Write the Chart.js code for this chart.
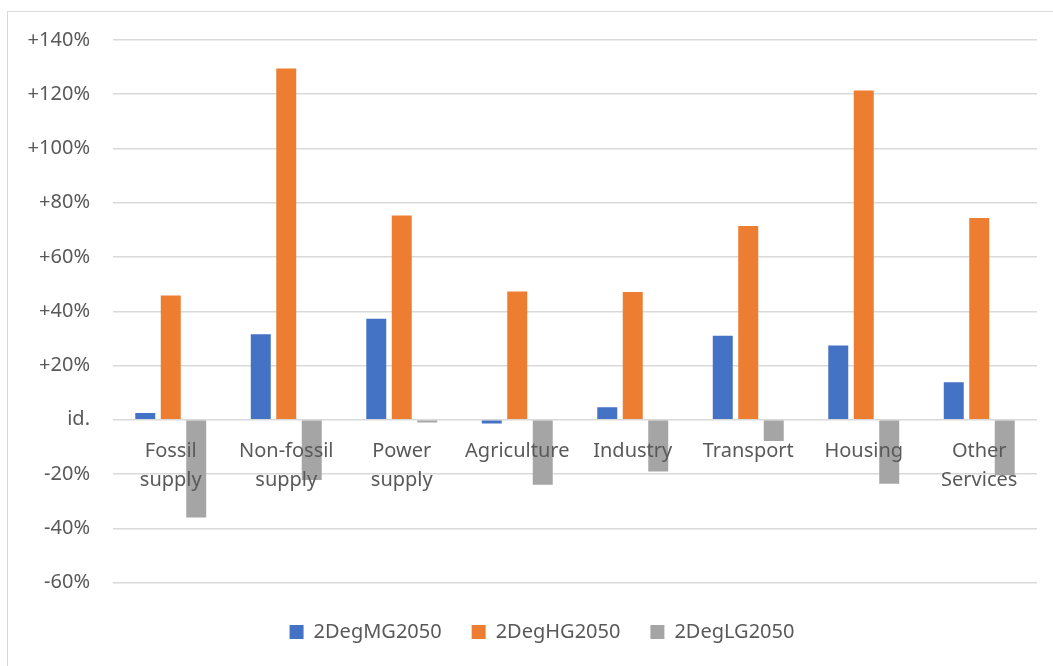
<!DOCTYPE html>
<html>
<head>
<meta charset="utf-8">
<script src="https://cdn.jsdelivr.net/npm/chart.js@4.4.1/dist/chart.umd.min.js"></script>
<style>
  html, body { margin: 0; padding: 0; background: #fff; overflow: hidden; }
  body { width: 1053px; height: 666px; position: relative; }
  .frame { position: absolute; left: 7px; top: 11px; width: 1100px; height: 700px;
           border-left: 1px solid #d9d9d9; border-top: 1px solid #d9d9d9; }
  .box { position: absolute; left: 8px; top: 12px; width: 1068px; height: 654px; }
</style>
</head>
<body>
<div class="frame"></div>
<div class="box"><canvas id="chart"></canvas></div>
<script>
// sectors on the x axis (multi-line labels as in the original)
const categories = [
  ['Fossil', 'supply'],
  ['Non-fossil', 'supply'],
  ['Power', 'supply'],
  'Agriculture',
  'Industry',
  'Transport',
  'Housing',
  ['Other', 'Services']
];

// change vs. reference, in percent
const mg2050 = [2.5, 31.5, 37.2, -1.4, 4.6, 31.0, 27.4, 13.8];
const hg2050 = [45.8, 129.5, 75.3, 47.3, 47.1, 71.4, 121.4, 74.4];
const lg2050 = [-36.0, -22.2, -1.0, -24.0, -19.1, -7.8, -23.6, -20.5];

const seriesNames = ['2DegMG2050', '2DegHG2050', '2DegLG2050'];
const seriesColors = ['#4472C4', '#ED7D31', '#A5A5A5'];

// y ticks: "id." for zero, signed percent otherwise
function tickLabel(v) {
  if (v === 0) return 'id.';
  return (v > 0 ? '+' : '') + v + '%';
}

Chart.defaults.font.family = "'Noto Sans', sans-serif";
Chart.defaults.font.size = 20;
Chart.defaults.color = '#595959';

// keep the legend centred on the whole chart box, not just the plot
const legendCentre = {
  id: 'legendCentre',
  afterLayout(chart) {
    if (chart.legend) {
      chart.legend.left = 0;
      chart.legend.right = chart.width;
    }
  }
};

new Chart(document.getElementById('chart'), {
  type: 'bar',
  data: {
    labels: categories,
    datasets: [
      { label: seriesNames[0], data: mg2050, backgroundColor: seriesColors[0] },
      { label: seriesNames[1], data: hg2050, backgroundColor: seriesColors[1] },
      { label: seriesNames[2], data: lg2050, backgroundColor: seriesColors[2] }
    ]
  },
  options: {
    responsive: true,
    maintainAspectRatio: false,
    animation: false,
    categoryPercentage: 0.662,
    barPercentage: 0.784,
    layout: { padding: { top: 28, right: 39, bottom: 14, left: 0 } },
    plugins: {
      tooltip: { enabled: false },
      legend: {
        position: 'bottom',
        title: { display: true, text: '', padding: 0, font: { size: 10, lineHeight: 0.95 } },
        labels: {
          boxWidth: 14,
          boxHeight: 14,
          padding: 30,
          font: { size: 20 },
          color: '#595959'
        }
      }
    },
    scales: {
      x: {
        position: { y: 0 },
        grid: { display: false, drawTicks: false },
        border: { display: false },
        ticks: {
          z: 1,   // category names sit on top of the bars, like in Excel
          autoSkip: false,
          maxRotation: 0,
          padding: 16.6,
          font: { size: 20, lineHeight: 1.475 },
          color: '#595959'
        }
      },
      y: {
        min: -60,
        max: 140,
        afterFit(scale) {
          scale.width = 105;
          // tick padding is meant for the label gap only, not the top margin
          scale.paddingTop = 12;
          scale.paddingBottom = 12;
        },
        grid: { color: '#d9d9d9', lineWidth: 1.5, drawTicks: false },
        border: { display: false },
        ticks: {
          stepSize: 20,
          padding: 23,
          font: { size: 20 },
          color: '#595959',
          callback: tickLabel
        }
      }
    }
  },
  plugins: [legendCentre]
});
</script>
</body>
</html>
